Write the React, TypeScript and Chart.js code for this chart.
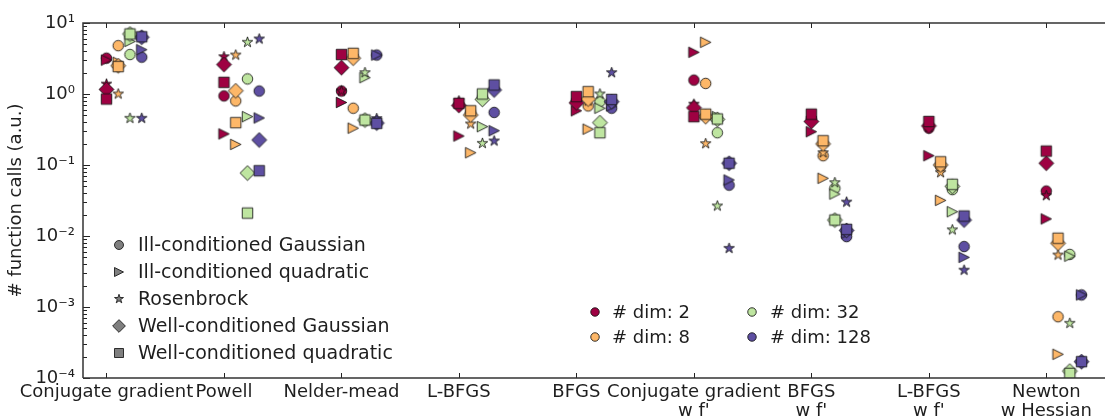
import React, { useEffect, useRef } from 'react';
import { Chart, registerables } from 'chart.js';

Chart.register(...registerables);

const FONT = '"DejaVu Sans", "Bitstream Vera Sans", sans-serif';
const TEXT_COLOR = '#1e1e1e';

// Categories (optimizers), multi-line tick labels
const methodLabels: string[][] = [
  ['Conjugate gradient'],
  ['Powell'],
  ['Nelder-mead'],
  ['L-BFGS'],
  ['BFGS'],
  ['Conjugate gradient', "w f'"],
  ['BFGS', "w f'"],
  ['L-BFGS', "w f'"],
  ['Newton', 'w Hessian'],
];

const dimLabels = ['# dim: 2', '# dim: 8', '# dim: 32', '# dim: 128'];
const dimOffsets = [0, 0.1, 0.2, 0.3];
const dimColors = ['#9e0142', '#fdb768', '#bee5a0', '#5e4fa2'];

const functionNames = [
  'Ill-conditioned Gaussian',
  'Ill-conditioned quadratic',
  'Rosenbrock',
  'Well-conditioned Gaussian',
  'Well-conditioned quadratic',
];
const functionShapes = ['circle', 'triangle', 'star', 'diamond', 'square'];

// Values: rows = dims (2, 8, 32, 128), columns = methods
const illGaussian = [
  [3.2, 0.94, 1.1, 0.72, 0.8, 1.57, 0.45, 0.33, 0.043],
  [4.8, 0.8, 0.63, 0.55, 0.68, 1.41, 0.135, 0.095, 0.00073],
  [3.6, 1.63, 0.43, 0.9, 0.78, 0.285, 0.047, 0.045, 0.0055],
  [3.3, 1.1, 3.54, 0.55, 0.63, 0.052, 0.0098, 0.0071, 0.00148],
];
const illQuadratic = [
  [3.0, 0.274, 0.76, 0.256, 0.58, 3.87, 0.294, 0.135, 0.0174],
  [2.8, 0.195, 0.33, 0.149, 0.32, 5.35, 0.065, 0.0318, 0.000216],
  [5.5, 0.48, 1.7, 0.347, 0.63, 0.48, 0.039, 0.022, 0.0052],
  [4.2, 0.46, 3.54, 0.304, 0.68, 0.0615, 0.011, 0.005, 0.00148],
];
const rosenbrock = [
  [1.38, 3.35, 1.1, 0.8, 0.8, 0.72, 0.45, 0.34, 0.037],
  [1.0, 3.54, 3.4, 0.378, 0.8, 0.2, 0.149, 0.078, 0.0054],
  [0.455, 5.35, 2.0, 0.202, 1.0, 0.0265, 0.0564, 0.0122, 0.00059],
  [0.455, 5.96, 0.45, 0.218, 2.0, 0.0067, 0.03, 0.0033, 0.00017],
];
const wellGaussian = [
  [1.16, 2.6, 2.35, 0.69, 0.75, 0.64, 0.41, 0.355, 0.106],
  [2.5, 1.11, 3.2, 0.506, 0.85, 0.48, 0.198, 0.1, 0.0079],
  [7.0, 0.077, 0.43, 0.84, 0.395, 0.44, 0.0168, 0.05, 0.000125],
  [6.3, 0.225, 0.39, 1.14, 0.78, 0.106, 0.012, 0.0168, 0.00017],
];
const wellQuadratic = [
  [0.85, 1.46, 3.6, 0.74, 0.92, 0.48, 0.52, 0.41, 0.157],
  [2.43, 0.395, 3.74, 0.58, 1.08, 0.52, 0.22, 0.111, 0.0093],
  [7.0, 0.021, 0.43, 1.0, 0.285, 0.445, 0.0168, 0.0535, 0.000116],
  [6.4, 0.083, 0.386, 1.34, 0.84, 0.106, 0.0124, 0.0191, 0.00017],
];
const functionValues = [illGaussian, illQuadratic, rosenbrock, wellGaussian, wellQuadratic];

const yTickValues = [1e-4, 1e-3, 1e-2, 1e-1, 1, 10];
const yTickLabels = ['10⁻⁴', '10⁻³', '10⁻²', '10⁻¹', '10⁰', '10¹'];
const xMin = -0.2;
const xMax = 8.44;
const yMin = 1e-4;
const yMax = 10;

const MARKER = 10.5;
const EDGE = 'rgba(20,20,20,0.85)';

function pathMarker(ctx: CanvasRenderingContext2D, shape: string, x: number, y: number, m: number) {
  const h = m / 2;
  ctx.beginPath();
  if (shape === 'circle') {
    ctx.arc(x, y, h, 0, Math.PI * 2);
  } else if (shape === 'square') {
    ctx.rect(x - h, y - h, m, m);
  } else if (shape === 'diamond') {
    const d = h * Math.SQRT2;
    ctx.moveTo(x, y - d);
    ctx.lineTo(x + d, y);
    ctx.lineTo(x, y + d);
    ctx.lineTo(x - d, y);
    ctx.closePath();
  } else if (shape === 'triangle') {
    ctx.moveTo(x + h, y);
    ctx.lineTo(x - h, y - h);
    ctx.lineTo(x - h, y + h);
    ctx.closePath();
  } else if (shape === 'star') {
    const outer = h * 1.05;
    const inner = outer * 0.381966;
    for (let k = 0; k < 10; k++) {
      const r = k % 2 === 0 ? outer : inner;
      const ang = -Math.PI / 2 + (k * Math.PI) / 5;
      const px = x + r * Math.cos(ang);
      const py = y + r * Math.sin(ang);
      if (k === 0) ctx.moveTo(px, py);
      else ctx.lineTo(px, py);
    }
    ctx.closePath();
  }
}

function drawMarker(ctx: CanvasRenderingContext2D, shape: string, x: number, y: number, m: number, fill: string) {
  pathMarker(ctx, shape, x, y, m);
  ctx.fillStyle = fill;
  ctx.fill();
  ctx.lineWidth = 1;
  ctx.strokeStyle = EDGE;
  ctx.stroke();
}

function makeMarkerImage(shape: string, m: number, fill: string): HTMLCanvasElement {
  const size = Math.ceil(m * 1.6) + 4;
  const c = document.createElement('canvas');
  c.width = size;
  c.height = size;
  const ctx = c.getContext('2d')!;
  drawMarker(ctx, shape, size / 2, size / 2, m, fill);
  return c;
}

const decorPlugin = {
  id: 'decor',
  afterDatasetsDraw(chart: any) {
    const { ctx, chartArea: a, scales } = chart;
    const xs = scales.x;
    const ys = scales.y;
    ctx.save();
    // inward ticks
    ctx.strokeStyle = '#222';
    ctx.lineWidth = 1;
    ctx.beginPath();
    methodLabels.forEach((_, i) => {
      const px = Math.round(xs.getPixelForValue(i)) + 0.5;
      ctx.moveTo(px, a.top);
      ctx.lineTo(px, a.top + 5);
      ctx.moveTo(px, a.bottom);
      ctx.lineTo(px, a.bottom - 5);
    });
    yTickValues.forEach((v) => {
      const py = Math.round(ys.getPixelForValue(v)) + 0.5;
      ctx.moveTo(a.left, py);
      ctx.lineTo(a.left + 7, py);
      if (v < yMax) {
        for (let k = 2; k <= 9; k++) {
          const pm = Math.round(ys.getPixelForValue(v * k)) + 0.5;
          ctx.moveTo(a.left, pm);
          ctx.lineTo(a.left + 4, pm);
        }
      }
    });
    ctx.stroke();
    // spines
    ctx.strokeStyle = '#333';
    ctx.lineWidth = 1.5;
    ctx.beginPath();
    ctx.moveTo(a.left, a.bottom);
    ctx.lineTo(a.left, a.top);
    ctx.lineTo(chart.width, a.top);
    ctx.moveTo(a.left, a.bottom);
    ctx.lineTo(chart.width, a.bottom);
    ctx.stroke();

    // legend of function shapes
    ctx.textBaseline = 'middle';
    ctx.textAlign = 'left';
    ctx.font = `19px ${FONT}`;
    functionNames.forEach((name, f) => {
      const y = 245 + f * 27;
      drawMarker(ctx, functionShapes[f], 119, y, 9, '#7f7f7f');
      ctx.fillStyle = TEXT_COLOR;
      ctx.fillText(name, 138, y + 1);
    });
    // legend of dimensions
    ctx.font = `18px ${FONT}`;
    dimLabels.forEach((name, d) => {
      const col = Math.floor(d / 2);
      const row = d % 2;
      const mx = col === 0 ? 595 : 752;
      const tx = col === 0 ? 612 : 770;
      const y = 312 + row * 25;
      drawMarker(ctx, 'circle', mx, y, 8.5, dimColors[d]);
      ctx.fillStyle = TEXT_COLOR;
      ctx.fillText(name, tx, y + 1);
    });
    ctx.restore();
  },
};

export default function App() {
  const ref = useRef<HTMLCanvasElement>(null);

  useEffect(() => {
    const canvas = ref.current;
    if (!canvas) return;
    const datasets: any[] = [];
    functionValues.forEach((vals, f) => {
      vals.forEach((row, d) => {
        const img = makeMarkerImage(functionShapes[f], MARKER, dimColors[d]);
        datasets.push({
          label: `${functionNames[f]}, ${dimLabels[d]}`,
          data: row.map((v, i) => ({ x: i + dimOffsets[d], y: v })),
          pointStyle: img,
          pointRadius: 6,
          backgroundColor: dimColors[d],
          borderColor: EDGE,
          showLine: false,
          order: 4 - f,
          clip: 0,
        });
      });
    });

    const chart = new Chart(canvas, {
      type: 'scatter',
      data: { datasets },
      options: {
        responsive: false,
        animation: false,
        devicePixelRatio: 1,
        layout: { padding: { top: 23, right: 0, bottom: 0, left: 0 } },
        plugins: { legend: { display: false }, tooltip: { enabled: false } },
        scales: {
          x: {
            type: 'linear',
            min: xMin,
            max: xMax,
            grid: { display: false, drawTicks: false },
            border: { display: false },
            afterBuildTicks: (s: any) => {
              s.ticks = methodLabels.map((_, i) => ({ value: i }));
            },
            afterFit: (s: any) => {
              s.height = 41;
            },
            ticks: {
              autoSkip: false,
              maxRotation: 0,
              minRotation: 0,
              padding: 5,
              color: TEXT_COLOR,
              font: { family: FONT, size: 18, lineHeight: 1.05 },
              callback: (_v: any, i: number) => methodLabels[i],
            },
          },
          y: {
            type: 'logarithmic',
            min: yMin,
            max: yMax,
            grid: { display: false, drawTicks: false },
            border: { display: false },
            afterBuildTicks: (s: any) => {
              s.ticks = yTickValues.map((v) => ({ value: v }));
            },
            afterFit: (s: any) => {
              s.width = 83;
            },
            ticks: {
              padding: 8,
              color: TEXT_COLOR,
              font: { family: FONT, size: 18 },
              callback: (_v: any, i: number) => yTickLabels[i],
            },
            title: {
              display: true,
              text: '# function calls (a.u.)',
              color: TEXT_COLOR,
              font: { family: FONT, size: 18 },
              padding: { top: 6, bottom: 0 },
            },
          },
        },
      } as any,
      plugins: [decorPlugin],
    });
    return () => chart.destroy();
  }, []);

  return (
    <div style={{ position: 'fixed', left: 0, top: 0, width: 1105, height: 419, background: '#fff' }}>
      <canvas ref={ref} width={1105} height={419} style={{ display: 'block', width: 1105, height: 419 }} />
    </div>
  );
}
